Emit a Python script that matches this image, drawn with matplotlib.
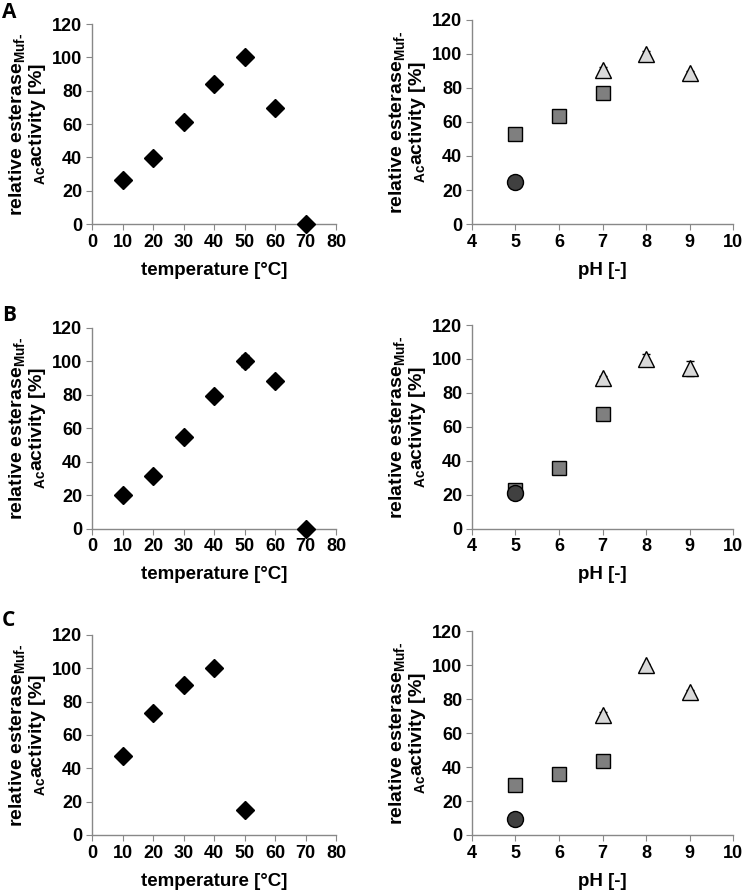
import matplotlib
matplotlib.use("Agg")
import matplotlib.pyplot as plt

plt.rcParams['font.family'] = ['Liberation Sans', 'DejaVu Sans']
plt.rcParams['font.weight'] = 'bold'
plt.rcParams['mathtext.fontset'] = 'custom'
plt.rcParams['mathtext.rm'] = 'Liberation Sans:bold'
plt.rcParams['mathtext.default'] = 'rm'

# temperature series (rows A, B, C)
temp_A = [10, 20, 30, 40, 50, 60, 70]
act_A = [26.5, 39.5, 61.5, 84, 100, 69.5, 0]
err_A = [0, 0, 0, 0, 0, 0, 0]

temp_B = [10, 20, 30, 40, 50, 60, 70]
act_B = [20, 31.5, 54.5, 79.5, 100, 88, 0]
err_B = [0, 0, 0, 0, 3.5, 3, 0]

temp_C = [10, 20, 30, 40, 50]
act_C = [47.5, 73, 90, 100, 15]
err_C = [0, 0, 2.5, 0, 0]

# pH series: circle buffer, square buffer, triangle buffer
ph_circle = [5]
ph_square = [5, 6, 7]
ph_tri = [7, 8, 9]

circ_A = [25]
sq_A = [53, 63.5, 77]
tri_A = [90.5, 100, 88.5]
tri_err_A = [1.5, 1.5, 1.5]

circ_B = [21]
sq_B = [23, 35.5, 67.5]
tri_B = [89, 100, 94.5]
tri_err_B = [1, 3, 4.5]

circ_C = [9.5]
sq_C = [29.5, 36, 43.5]
tri_C = [70.5, 100, 84.5]
tri_err_C = [2, 1, 1]

ylab = 'relative esterase$_{Muf\u2010}$\n$_{Ac}$activity [%]'

fig = plt.figure(figsize=(7.42, 8.93), dpi=100)

def style(ax, xmax, xticks):
    ax.set_ylim(0, 120)
    ax.set_yticks(range(0, 121, 20))
    ax.set_xticks(xticks)
    ax.set_xlim(xticks[0], xmax)
    for s in ['top', 'right']:
        ax.spines[s].set_visible(False)
    for s in ['left', 'bottom']:
        ax.spines[s].set_color('#888888')
        ax.spines[s].set_linewidth(1)
    ax.tick_params(direction='out', length=4, color='#888888', labelsize=13, pad=3)
    for lab in ax.get_xticklabels() + ax.get_yticklabels():
        lab.set_fontweight('bold')
    ax.set_ylabel(ylab, fontsize=14, fontweight='bold', linespacing=1.0, labelpad=3)

def temp_panel(rect, x, y, err):
    ax = fig.add_axes(rect)
    ax.errorbar(x, y, yerr=err, fmt='D', color='black', ms=9, mec='black',
                ecolor='black', elinewidth=1, capsize=3, clip_on=False, zorder=3)
    style(ax, 80, list(range(0, 81, 10)))
    ax.set_xlabel('temperature [°C]', fontsize=13.5, fontweight='bold', labelpad=8)
    return ax

def ph_panel(rect, circ, sq, tri, tri_err):
    ax = fig.add_axes(rect)
    ax.errorbar(ph_tri, tri, yerr=tri_err, fmt='none', ecolor='black',
                elinewidth=1, capsize=3, zorder=2)
    ax.plot(ph_tri, tri, '^', color='#d9d9d9', mec='black', mew=1, ms=12, zorder=3, clip_on=False)
    ax.plot(ph_square, sq, 's', color='#7f7f7f', mec='black', mew=1, ms=10.5, zorder=3, clip_on=False)
    ax.plot(ph_circle, circ, 'o', color='#404040', mec='black', mew=1, ms=11.5, zorder=3, clip_on=False)
    style(ax, 10, list(range(4, 11)))
    ax.set_xlabel('pH [-]', fontsize=13.5, fontweight='bold', labelpad=8)
    return ax

temp_panel([0.124, 0.749, 0.329, 0.224], temp_A, act_A, err_A)
ph_panel([0.636, 0.749, 0.352, 0.229], circ_A, sq_A, tri_A, tri_err_A)
temp_panel([0.124, 0.408, 0.329, 0.225], temp_B, act_B, err_B)
ph_panel([0.636, 0.408, 0.352, 0.228], circ_B, sq_B, tri_B, tri_err_B)
temp_panel([0.124, 0.065, 0.329, 0.224], temp_C, act_C, err_C)
ph_panel([0.636, 0.065, 0.352, 0.228], circ_C, sq_C, tri_C, tri_err_C)

for lbl, ypix in [('A', 2), ('B', 305), ('C', 610)]:
    fig.text(2 / 742, 1 - ypix / 893, lbl, fontsize=15, fontweight='bold',
             family=['Open Sans', 'DejaVu Sans'], va='top', ha='left')

fig.savefig('out.png', dpi=100)
